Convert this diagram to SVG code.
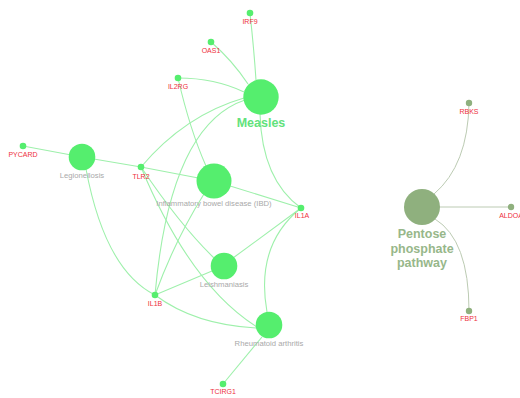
<svg xmlns="http://www.w3.org/2000/svg" width="520" height="398" viewBox="0 0 520 398">
<style>
.e{fill:none;stroke:#9ef0ab;stroke-width:1.1}
.pe{fill:none;stroke:#bccbb3;stroke-width:1}
.d{fill:#55ee6e}
.g{fill:#55ee6e}
.pd{fill:#8fb07e}
.gl{font-family:"Liberation Sans",Arial,sans-serif;font-size:7px;fill:#ee2f3c;text-anchor:middle}
.dl{font-family:"Liberation Sans",Arial,sans-serif;font-size:7.7px;fill:#a9a9a9;text-anchor:middle}
.ml{font-family:"Liberation Sans",Arial,sans-serif;font-size:12.5px;font-weight:bold;fill:#62e27c;text-anchor:middle}
.pl{font-family:"Liberation Sans",Arial,sans-serif;font-size:12.5px;font-weight:bold;fill:#97b78a;text-anchor:middle}
</style>
<rect width="520" height="398" fill="#ffffff"/>
<g id="connectors">
<path class="e" d="M250,13 Q254,50 256,80"/>
<path class="e" d="M211,42 Q232,60 248,84"/>
<path class="e" d="M178,78 Q215,78 244,92"/>
<path class="e" d="M141,167 Q185,115 244,98"/>
<path class="e" d="M155,295 Q170,125 245,100"/>
<path class="e" d="M260,114 Q262,180 301,208"/>
<path class="e" d="M178,78 Q190,130 206,166"/>
<path class="e" d="M23,146 L82,157"/>
<path class="e" d="M82,157 L141,167"/>
<path class="e" d="M141,167 L214,181"/>
<path class="e" d="M214,181 L301,208"/>
<path class="e" d="M155,295 Q175,240 204,194"/>
<path class="e" d="M86,169 Q105,270 155,295"/>
<path class="e" d="M141,167 Q180,225 214,258"/>
<path class="e" d="M141,167 Q190,285 257,327"/>
<path class="e" d="M301,208 L233,258"/>
<path class="e" d="M301,208 Q255,245 267,312"/>
<path class="e" d="M155,295 L212,271"/>
<path class="e" d="M155,295 Q195,325 257,328"/>
<path class="e" d="M223,384 L262,337"/>
<path class="pe" d="M434,194 Q468,165 469,103"/>
<path class="pe" d="M439,207 L511,207"/>
<path class="pe" d="M435,219 Q469,240 469,311"/>
</g>
<g id="measles"><circle class="d" cx="261" cy="97" r="17.7"/><text class="ml" x="261" y="127">Measles</text></g>
<g id="legionellosis"><circle class="d" cx="82" cy="157" r="13.3"/><text class="dl" x="82" y="177.5">Legionellosis</text></g>
<g id="ibd"><circle class="d" cx="214" cy="181" r="17.5"/><text class="dl" x="214" y="206">Inflammatory bowel disease (IBD)</text></g>
<g id="leishmaniasis"><circle class="d" cx="224" cy="266" r="13.3"/><text class="dl" x="224" y="286.5">Leishmaniasis</text></g>
<g id="rheumatoid"><circle class="d" cx="269" cy="325" r="13.3"/><text class="dl" x="269" y="346">Rheumatoid arthritis</text></g>
<g id="irf9"><circle class="g" cx="250" cy="13" r="3.3"/><text class="gl" x="250" y="23.5">IRF9</text></g>
<g id="oas1"><circle class="g" cx="211" cy="42" r="3.3"/><text class="gl" x="211" y="52.5">OAS1</text></g>
<g id="il2rg"><circle class="g" cx="178" cy="78" r="3.3"/><text class="gl" x="178" y="89">IL2RG</text></g>
<g id="pycard"><circle class="g" cx="23" cy="146" r="3.3"/><text class="gl" x="23" y="157">PYCARD</text></g>
<g id="tlr2"><circle class="g" cx="141" cy="167" r="3.3"/><text class="gl" x="141" y="178.5">TLR2</text></g>
<g id="il1a"><circle class="g" cx="301" cy="208" r="3.3"/><text class="gl" x="302" y="218">IL1A</text></g>
<g id="il1b"><circle class="g" cx="155" cy="295" r="3.3"/><text class="gl" x="155" y="306">IL1B</text></g>
<g id="tcirg1"><circle class="g" cx="223" cy="384" r="3.3"/><text class="gl" x="223" y="394">TCIRG1</text></g>
<g id="pentose"><circle class="pd" cx="422" cy="207" r="18"/><text class="pl" x="422" y="238">Pentose</text><text class="pl" x="422" y="252.5">phosphate</text><text class="pl" x="422" y="267">pathway</text></g>
<g id="rbks"><circle class="pd" cx="469" cy="103" r="3.2"/><text class="gl" x="469" y="113.5">RBKS</text></g>
<g id="aldoa"><circle class="pd" cx="511" cy="207" r="3.2"/><text class="gl" x="511" y="217.5">ALDOA</text></g>
<g id="fbp1"><circle class="pd" cx="469" cy="311" r="3.2"/><text class="gl" x="469" y="321">FBP1</text></g>
</svg>
